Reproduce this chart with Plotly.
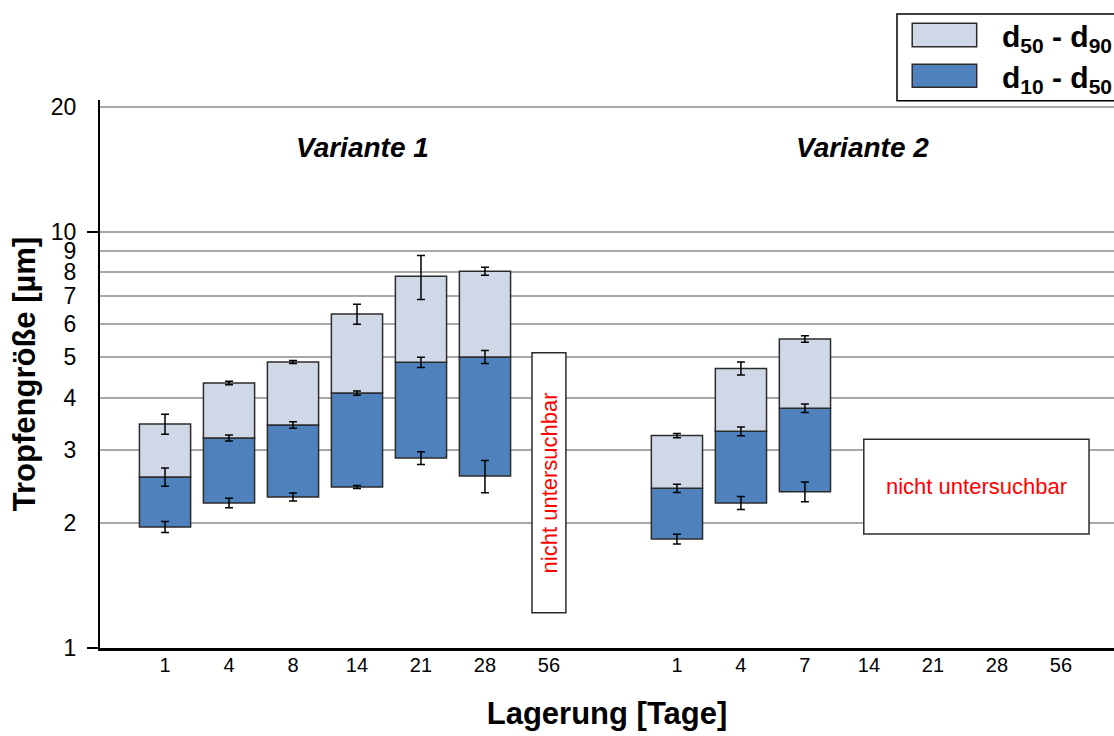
import math
import plotly.graph_objects as go

# Storage time categories for the two formulations
days_v1 = ["1", "4", "8", "14", "21", "28", "56"]
days_v2 = ["1", "4", "7", "14", "21", "28", "56"]

# Droplet size percentiles [µm], Variante 1 (day 56 not measurable)
v1_d10 = [1.954, 2.232, 2.307, 2.438, 2.862, 2.591]
v1_d50 = [2.577, 3.198, 3.436, 4.100, 4.862, 5.007]
v1_d90 = [3.456, 4.336, 4.870, 6.350, 7.830, 8.050]
v1_d10_err = [0.06, 0.06, 0.05, 0.02, 0.10, 0.23]
v1_d50_err = [0.13, 0.055, 0.06, 0.05, 0.14, 0.18]
v1_d90_err = [0.19, 0.04, 0.04, 0.35, 0.95, 0.18]

# Variante 2 (days 14-56 not measurable)
v2_d10 = [1.828, 2.232, 2.376]
v2_d50 = [2.420, 3.318, 3.770]
v2_d90 = [3.240, 4.700, 5.530]
v2_d10_err = [0.05, 0.08, 0.13]
v2_d50_err = [0.055, 0.08, 0.09]
v2_d90_err = [0.04, 0.17, 0.10]

# Value span of the "nicht untersuchbar" boxes
na_v1_span = [1.216, 5.128]
na_v2_span = [1.879, 3.175]

y_ticks = [1, 2, 3, 4, 5, 6, 7, 8, 9, 10, 20]
y_major = [1, 10]
Y_MAX = 20.76

FONT = "Liberation Sans"
DARK = "#4f81bd"
LIGHT = "#d0d8e8"
EDGE = "#2b2b2b"

# x positions: group 2 starts after one empty slot
pos_v1 = list(range(len(days_v1)))
pos_v2 = [len(days_v1) + 1 + i for i in range(len(days_v2))]

x_meas = pos_v1[:len(v1_d10)] + pos_v2[:len(v2_d10)]
d10 = v1_d10 + v2_d10
d50 = v1_d50 + v2_d50
d90 = v1_d90 + v2_d90
e10 = v1_d10_err + v2_d10_err
e50 = v1_d50_err + v2_d50_err
e90 = v1_d90_err + v2_d90_err

fig = go.Figure()

fig.add_trace(go.Bar(
    x=x_meas, base=d10, y=[b - a for a, b in zip(d10, d50)],
    width=0.8, marker=dict(color=DARK, line=dict(color=EDGE, width=1.5)),
    name="d10 - d50", hoverinfo="skip"))
fig.add_trace(go.Bar(
    x=x_meas, base=d50, y=[b - a for a, b in zip(d50, d90)],
    width=0.8, marker=dict(color=LIGHT, line=dict(color=EDGE, width=1.5)),
    name="d50 - d90", hoverinfo="skip"))

# "nicht untersuchbar" frames
na_v1_x = pos_v1[-1]
na_v2_x0 = pos_v2[3] - 0.08
na_v2_x1 = pos_v2[-1] + 0.44
fig.add_trace(go.Bar(
    x=[na_v1_x, (na_v2_x0 + na_v2_x1) / 2],
    base=[na_v1_span[0], na_v2_span[0]],
    y=[na_v1_span[1] - na_v1_span[0], na_v2_span[1] - na_v2_span[0]],
    width=[0.53, na_v2_x1 - na_v2_x0],
    marker=dict(color="white", line=dict(color=EDGE, width=1.5)),
    hoverinfo="skip"))

# error bars at each percentile
for vals, errs in ((d10, e10), (d50, e50), (d90, e90)):
    fig.add_trace(go.Scatter(
        x=x_meas, y=vals, mode="markers",
        marker=dict(size=1, color="rgba(0,0,0,0)"),
        error_y=dict(type="data", array=errs, visible=True,
                     color="black", thickness=1.5, width=4),
        hoverinfo="skip"))

# invisible anchor so the overlay axis carrying the major tick marks is drawn
fig.add_trace(go.Scatter(x=[0], y=[1], yaxis="y2", mode="markers",
                         marker=dict(size=1, color="rgba(0,0,0,0)"),
                         hoverinfo="skip"))

fig.update_layout(
    width=1114, height=736,
    margin=dict(l=100, r=0, t=100, b=88),
    paper_bgcolor="white", plot_bgcolor="white",
    barmode="overlay", showlegend=False,
    font=dict(family=FONT, color="black"),
    xaxis=dict(
        range=[-1.016, 14.83],
        tickvals=pos_v1 + pos_v2, ticktext=days_v1 + days_v2,
        tickfont=dict(size=20), ticks="", showgrid=False, zeroline=False,
        ticklabelstandoff=-3,
        showline=True, linecolor="black", linewidth=3,
        title=dict(text="<b>Lagerung [Tage]</b>", font=dict(size=31), standoff=28),
    ),
    yaxis=dict(
        type="log", range=[0, math.log10(Y_MAX)],
        tickvals=y_ticks, ticktext=[str(v) for v in y_ticks],
        tickfont=dict(size=23), ticks="", ticklen=0, ticklabelstandoff=17,
        showgrid=True, gridcolor="#a8a8a8", gridwidth=1.5,
        showline=True, linecolor="black", linewidth=2,
        title=dict(text="<b>Tropfengröße [µm]</b>", font=dict(size=31), standoff=6),
    ),
    yaxis2=dict(
        type="log", range=[0, math.log10(Y_MAX)], overlaying="y", side="left",
        tickvals=y_major, ticks="outside", ticklen=12, tickwidth=2,
        tickcolor="black", showticklabels=False, showgrid=False,
        zeroline=False, showline=False,
    ),
)

# group labels
for txt, xc in (("Variante 1", 3.08), ("Variante 2", 10.9)):
    fig.add_annotation(x=xc, y=math.log10(16.0), xref="x", yref="y",
                       text=f"<b><i>{txt}</i></b>", showarrow=False,
                       font=dict(size=28, color="black"))

fig.add_annotation(x=na_v1_x, y=math.log10(2.50), xref="x", yref="y",
                   text="nicht untersuchbar", textangle=-90, showarrow=False,
                   font=dict(size=22, color="red"))
fig.add_annotation(x=(na_v2_x0 + na_v2_x1) / 2, y=math.log10(2.44), xref="x", yref="y",
                   text="nicht untersuchbar", showarrow=False,
                   font=dict(size=22, color="red"))

# legend frame
fig.add_shape(type="rect", xref="paper", yref="paper",
              x0=0.786, x1=1.05, y0=0.9988, y1=1.157,
              line=dict(color="black", width=1.5), fillcolor="white")
fig.add_shape(type="rect", xref="paper", yref="paper",
              x0=0.801, x1=0.8646, y0=1.0973, y1=1.140,
              line=dict(color=EDGE, width=1.5), fillcolor=LIGHT)
fig.add_shape(type="rect", xref="paper", yref="paper",
              x0=0.801, x1=0.8646, y0=1.0232, y1=1.0651,
              line=dict(color=EDGE, width=1.5), fillcolor=DARK)
fig.add_annotation(x=0.8876, y=1.112, xref="paper", yref="paper",
                   xanchor="left", yanchor="middle", showarrow=False,
                   text="<b>d<sub>50</sub> - d<sub>90</sub></b>",
                   font=dict(size=30, color="black"))
fig.add_annotation(x=0.8876, y=1.038, xref="paper", yref="paper",
                   xanchor="left", yanchor="middle", showarrow=False,
                   text="<b>d<sub>10</sub> - d<sub>50</sub></b>",
                   font=dict(size=30, color="black"))

fig.write_html("out.html")
